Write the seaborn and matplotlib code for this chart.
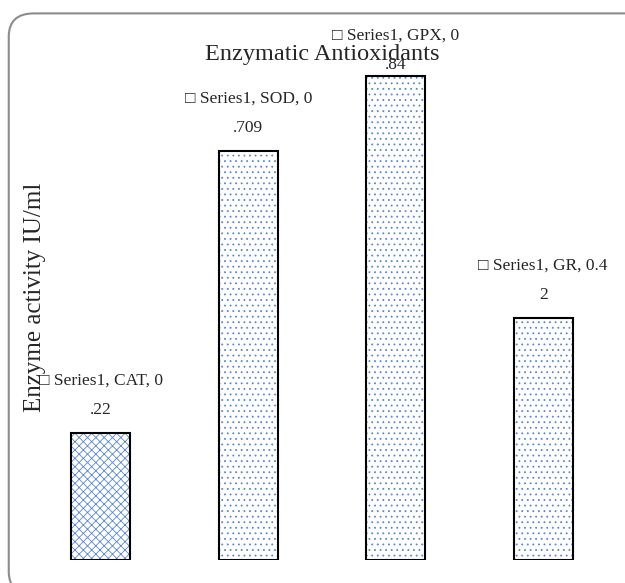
import matplotlib
matplotlib.use("Agg")
import matplotlib.pyplot as plt
from matplotlib.patches import FancyBboxPatch
import pandas as pd
import seaborn as sns

# 데이터
enzymes = ['CAT', 'SOD', 'GPX', 'GR']
activity = [0.22, 0.709, 0.84, 0.42]
value_text = ['0\n.22', '0\n.709', '0\n.84', '0.4\n2']
series_name = 'Series1'

df = pd.DataFrame({'enzyme': enzymes, 'activity': activity})

sns.set_style('white')
plt.rcParams['font.family'] = ['Liberation Serif', 'DejaVu Sans']
plt.rcParams['hatch.linewidth'] = 0.6

fig = plt.figure(figsize=(6.25, 5.83), dpi=100)
ax = fig.add_axes([0.0432, 0.0395, 0.944, 0.89])

# 해칭 (파란색)
sns.barplot(data=df, x='enzyme', y='activity', width=0.4, color='white',
            edgecolor='#5B87D0', linewidth=0, ax=ax)
hatches = ['xxxx', '...', '...', '...']
for p, h in zip(ax.patches, hatches):
    p.set_hatch(h)

# 검은 테두리
sns.barplot(data=df, x='enzyme', y='activity', width=0.4, fill=False,
            edgecolor='black', linewidth=1.5, ax=ax)

ax.set_xlim(-0.5, 3.5)
ax.set_ylim(0, 0.9)
ax.set_xticks([])
ax.set_yticks([])
ax.set_xlabel('')
ax.set_ylabel('')
for s in ax.spines.values():
    s.set_visible(False)

# 데이터 레이블 (가장 높은 막대는 테두리 안으로 내림)
top = max(activity)
for i, (e, t) in enumerate(zip(enzymes, value_text)):
    first, second = t.split('\n')
    dy = 2 if activity[i] == top else 11
    ax.annotate('\u25a1 ' + series_name + ', ' + e + ', ' + first + '\n' + second,
                xy=(i, activity[i]), xytext=(0, dy), textcoords='offset points',
                ha='center', va='bottom', fontsize=12.5, linespacing=2.1,
                annotation_clip=False)

fig.text(0.515, 0.906, 'Enzymatic Antioxidants', ha='center', va='center', fontsize=17.5)
fig.text(0.056, 0.49, 'Enzyme activity IU/ml', ha='center', va='center',
         rotation=90, fontsize=18)

# 둥근 테두리
frame = FancyBboxPatch((0.014, -0.02), 1.1, 0.997, boxstyle='round,pad=0,rounding_size=0.04',
                       transform=fig.transFigure, facecolor='none', edgecolor='#8c8c8c',
                       linewidth=1.5, clip_on=False)
fig.patches.append(frame)

fig.savefig('out.png', dpi=100)
